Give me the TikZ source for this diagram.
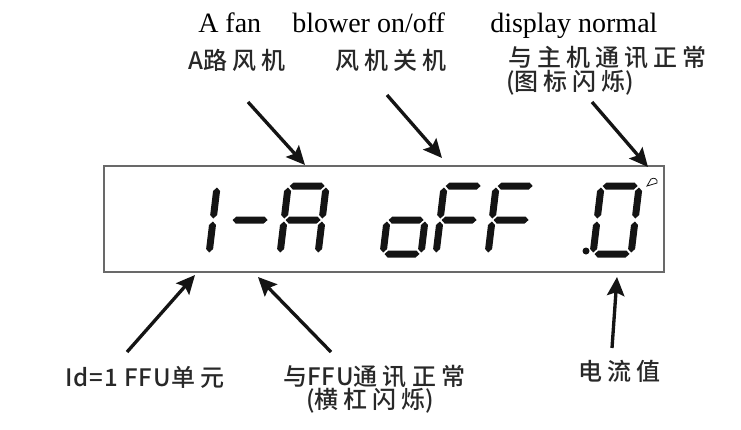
\documentclass[tikz,border=0pt]{standalone}
\usepackage{fontspec}
\setmainfont{Liberation Serif}
\newfontfamily\cjk[LetterSpace=21,UprightFont={* Medium}]{Noto Sans CJK SC}
\newfontfamily\cjklat[LetterSpace=4,UprightFont={* Medium}]{Noto Sans CJK SC}
\usetikzlibrary{arrows.meta}

\definecolor{lcdink}{RGB}{20,20,20}
\definecolor{cngray}{RGB}{40,40,40}
\definecolor{framegray}{RGB}{105,105,105}

\tikzset{
  segfill/.style={fill=lcdink},
  pointer/.style={line width=2.5pt, lcdink, -{Stealth[length=14pt,width=13pt,inset=2.5pt]}},
  entext/.style={anchor=base west, inner sep=0pt, font=\fontsize{21}{24}\selectfont},
  cntext/.style={anchor=west, inner sep=0pt, text=cngray, font=\cjk\fontsize{18}{21}\selectfont},
}

% one bar of a seven segment digit (local units, y up)
\newcommand{\hseg}[3]{\fill[segfill] (#1+1.5,#3) -- (#1+5,#3+3.5) -- (#2-5,#3+3.5) -- (#2-1.5,#3) -- (#2-5,#3-3.5) -- (#1+5,#3-3.5) -- cycle;}
\newcommand{\vseg}[3]{\fill[segfill] (#1,#2+1.5) -- (#1+3.5,#2+5) -- (#1+3.5,#3-5) -- (#1,#3-1.5) -- (#1-3.5,#3-5) -- (#1-3.5,#2+5) -- cycle;}
\newcommand{\segA}{\hseg{0}{38}{68}}
\newcommand{\segB}{\vseg{38}{34}{68}}
\newcommand{\segC}{\vseg{38}{0}{34}}
\newcommand{\segD}{\hseg{0}{38}{0}}
\newcommand{\segE}{\vseg{0}{0}{34}}
\newcommand{\segF}{\vseg{0}{34}{68}}
\newcommand{\segG}{\hseg{0}{38}{34}}
\newcommand{\lcd}[3]{\begin{scope}[shift={(#1,#2)},yscale=-1,xslant=0.12]
  \foreach \s in {#3} {\csname seg\s\endcsname}
\end{scope}}

\begin{document}
\begin{tikzpicture}[x=0.75pt,y=0.75pt,yscale=-1,xscale=1]
\useasboundingbox (0,0) rectangle (741,429);

% display frame
\draw [framegray, line width=1.5pt] (104,166) rectangle (664,272);

% 1-A oFF .0
\lcd{171}{254}{B,C}
\lcd{227}{254}{G}
\lcd{280}{254}{A,B,C,E,F,G}
\lcd{383}{254}{C,D,E,G}
\lcd{436}{254}{A,E,F,G}
\lcd{488}{254}{A,E,F,G}
\lcd{593}{254}{A,B,C,D,E,F}
\fill [lcdink] (586,251) circle (3.5);

% link icon
\draw [lcdink, line width=0.6pt] (647,186) -- (651,179) .. controls (654,177) and (658,179) .. (657,183) -- cycle;

% english titles
\node [entext] (enFan) at (198,32) {A fan};
\node [entext] (enBlower) at (292,32) {blower on/off};
\node [entext] (enDisplay) at (490,32) {display normal};

% chinese labels
\node [cntext] (lblFan) at (188,60) {{\cjklat A}路风机};
\node [cntext] (lblOnOff) at (335,60) {风机关机};
\node [cntext] (lblHost) at (508,57.5) {与主机通讯正常};
\node [cntext] (lblHostB) at (506,82.5) {{\cjklat(}图标闪烁{\cjklat)}};
\node [cntext] (lblUnit) at (65,377) {{\cjklat Id=1 FFU}单元};
\node [cntext] (lblFfu) at (283,377) {与{\cjklat FFU}通讯正常};
\node [cntext] (lblFfuB) at (306,401) {{\cjklat(}横杠闪烁{\cjklat)}};
\node [cntext] (lblAmp) at (578,371) {电流值};

% arrow ends
\coordinate (fanS) at (248,102);  \coordinate (fanT) at (305,165);
\coordinate (offS) at (387,95);   \coordinate (offT) at (442,158);
\coordinate (hostS) at (592,102); \coordinate (hostT) at (648,167);
\coordinate (unitS) at (127,352); \coordinate (unitT) at (195,275);
\coordinate (ffuS) at (331,352);  \coordinate (ffuT) at (258,277);
\coordinate (ampS) at (612,348);  \coordinate (ampT) at (617,277);

\draw [pointer] (fanS) -- (fanT);
\draw [pointer] (offS) -- (offT);
\draw [pointer] (hostS) -- (hostT);
\draw [pointer] (unitS) -- (unitT);
\draw [pointer] (ffuS) -- (ffuT);
\draw [pointer] (ampS) -- (ampT);

\end{tikzpicture}
\end{document}
